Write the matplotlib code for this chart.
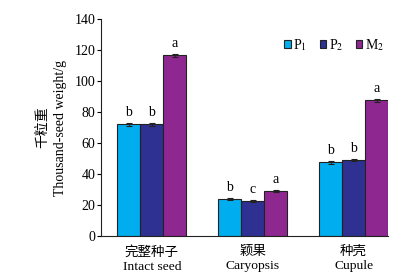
import matplotlib
matplotlib.use("Agg")
import matplotlib.pyplot as plt
import numpy as np

categories_cn = ["完整种子", "颖果", "种壳"]
categories_en = ["Intact seed", "Caryopsis", "Cupule"]
series_names = ["P$_1$", "P$_2$", "M$_2$"]
P1 = [72.0, 24.0, 47.5]
P2 = [72.0, 22.8, 49.0]
M2 = [116.5, 29.2, 87.5]
P1_err = [1.0, 0.6, 1.0]
P2_err = [1.0, 0.6, 0.8]
M2_err = [1.2, 0.6, 1.0]
P1_sig = ["b", "b", "b"]
P2_sig = ["b", "c", "b"]
M2_sig = ["a", "a", "a"]
colors = ["#00AEEF", "#2E3192", "#8E278F"]

plt.rcParams['font.family'] = ['Liberation Serif', 'Noto Sans CJK SC']
plt.rcParams['mathtext.fontset'] = 'stix'

fig = plt.figure(figsize=(4.05, 2.76), dpi=100)
ax = fig.add_axes([0.249, 0.145, 0.709, 0.786])

x = np.arange(len(categories_en))
w = 0.228
vals = [P1, P2, M2]
errs = [P1_err, P2_err, M2_err]
sigs = [P1_sig, P2_sig, M2_sig]
for i in range(3):
    xs = x + (i - 1) * w
    ax.bar(xs, vals[i], w, color=colors[i], edgecolor="#222222", linewidth=0.8,
           yerr=errs[i], capsize=2.5, error_kw=dict(elinewidth=0.8, capthick=0.8, ecolor="#222222"),
           label=series_names[i])
    for xi, v, e, s in zip(xs, vals[i], errs[i], sigs[i]):
        ax.text(xi, v + e + 2.5, s, ha="center", va="bottom", fontsize=10)

ax.set_xlim(-0.505, 2.34)
ax.set_ylim(0, 140)
ax.set_yticks(np.arange(0, 141, 20))
ax.set_xticks(x)
ax.set_xticklabels([f"{c}\n{e}" for c, e in zip(categories_cn, categories_en)],
                   fontsize=9.7, linespacing=1.25, fontweight="light")
ax.tick_params(axis="x", length=0, pad=7)
ax.tick_params(axis="y", length=3, width=0.8, labelsize=10, pad=1)
ax.spines["top"].set_visible(False)
ax.spines["right"].set_visible(False)
for s in ["left", "bottom"]:
    ax.spines[s].set_linewidth(0.8)
    ax.spines[s].set_color("#222222")

ax.set_ylabel("千粒重\nThousand-seed weight/g", fontsize=10, linespacing=1.5, labelpad=5,
              fontweight="light")

leg = ax.legend(loc="upper right", bbox_to_anchor=(1.03, 0.975), ncol=3, frameon=False,
                fontsize=10, handlelength=0.45, handleheight=0.45, handletextpad=0.2,
                columnspacing=0.9)

fig.savefig("out.png", dpi=100)
